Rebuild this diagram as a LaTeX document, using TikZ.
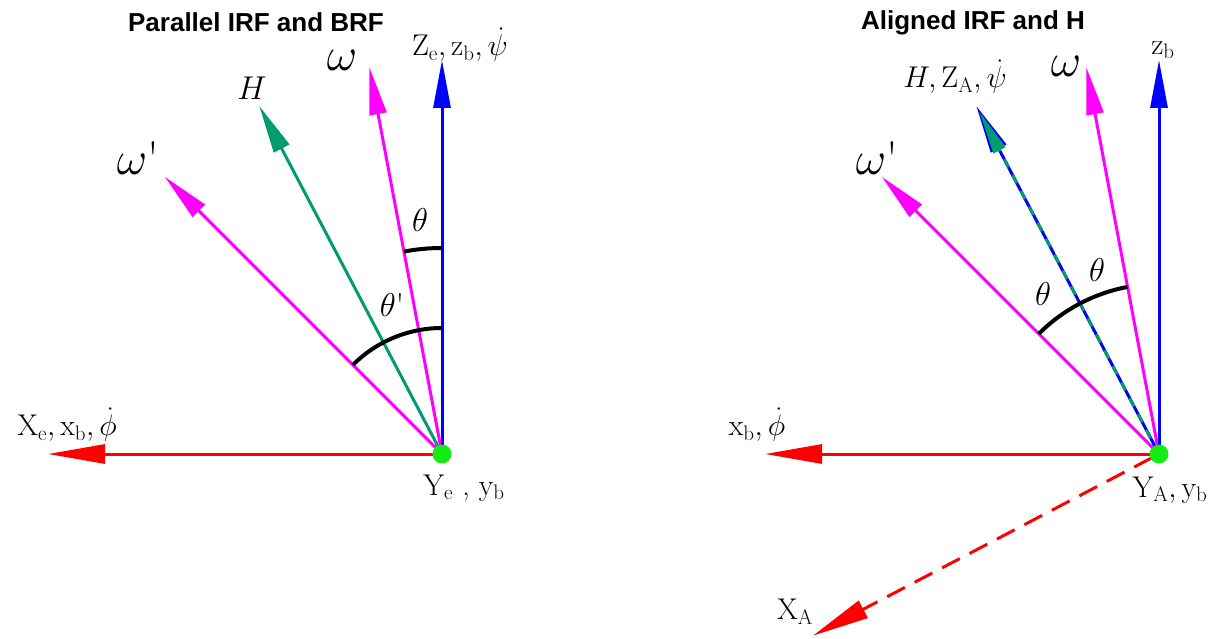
\RequirePackage{fix-cm}
\documentclass[tikz,border=0pt]{standalone}
\usepackage{fontspec}
\newfontfamily\titlefont{Liberation Sans}
\usetikzlibrary{arrows.meta,calc}
\definecolor{hgreen}{RGB}{0,155,110}
\definecolor{dotgreen}{RGB}{20,235,20}
\definecolor{mag}{RGB}{255,0,255}
\definecolor{vred}{RGB}{255,0,0}
\definecolor{vblue}{RGB}{0,0,255}
\begin{document}
\begin{tikzpicture}[x=1pt,y=1pt,
 vec/.style={line width=3pt, -{Triangle[length=48pt,width=17pt]}},
 xvec/.style={line width=3pt, -{Triangle[length=57pt,width=19pt]}},
 anglearc/.style={line width=4pt, black},
 lbl/.style={inner sep=0pt, font=\fontsize{30}{34}\selectfont},
 hlbl/.style={inner sep=0pt, font=\fontsize{33}{37}\selectfont},
 biglbl/.style={inner sep=0pt, font=\fontsize{47}{50}\selectfont},
 titlelbl/.style={inner sep=0pt, font=\titlefont\bfseries\fontsize{26}{30}\selectfont},
 origin/.style={circle, fill=dotgreen, minimum size=19pt, inner sep=0pt}]
\useasboundingbox (0,0) rectangle (1214,-639);

% ---------------- left diagram ----------------
\coordinate (O1) at (442,-454);
\coordinate (Z1) at ($(O1)+(90:394)$);
\coordinate (W1) at ($(O1)+(100.65:394)$);
\coordinate (H1) at ($(O1)+(117.7:393)$);
\coordinate (Wp1) at ($(O1)+(135:392)$);
\coordinate (X1) at ($(O1)+(180:394)$);

\draw[vec, mag] (O1) -- (Wp1);
\draw[vec, hgreen] (O1) -- (H1);
\draw[vec, mag] (O1) -- (W1);
\draw[vec, vblue] (O1) -- (Z1);
\draw[xvec, vred] (O1) -- (X1);

\draw[anglearc] ($(O1)+(90:206)$) arc[start angle=90, end angle=100.65, radius=206pt];
\draw[anglearc] ($(O1)+(90:126)$) arc[start angle=90, end angle=135, radius=126pt];

\node[origin] (D1) at (O1) {};

\node[titlelbl] (T1) at (256,-22) {Parallel IRF and BRF};
\node[lbl] (LZ1) at (460,-45) {$\mathrm{Z_e},\mathrm{z_b},\dot{\psi}$};
\node[biglbl] (LW1) at (342,-60) {$\omega$};
\node[hlbl] (LH1) at (252,-88) {$H$};
\node[biglbl] (LWp1) at (138,-158) {$\omega$\textquotesingle};
\node[hlbl] (LT1) at (420,-220) {$\theta$};
\node[hlbl] (LTp1) at (392,-305) {$\theta$\textquotesingle};
\node[lbl] (LX1) at (67,-425) {$\mathrm{X_e},\mathrm{x_b},\dot{\phi}$};
\node[lbl] (LY1) at (464,-488) {$\mathrm{Y_e}$ , $\mathrm{y_b}$};

% ---------------- right diagram ----------------
\coordinate (O2) at (1159,-454);
\coordinate (Z2) at ($(O2)+(90:394)$);
\coordinate (W2) at ($(O2)+(100.65:394)$);
\coordinate (H2) at ($(O2)+(117.7:393)$);
\coordinate (Wp2) at ($(O2)+(135:392)$);
\coordinate (X2) at ($(O2)+(180:394)$);
\coordinate (XA) at ($(O2)+(207.7:391)$);
\coordinate (XAs) at ($(O2)+(207.7:8)$);

\draw[vec, mag] (O2) -- (Wp2);
\draw[vec, vblue] (O2) -- (H2);
\draw[line width=3pt, hgreen, dash pattern=on 9pt off 9pt, -{Triangle[length=44pt,width=13pt]}, shorten >=6pt] (O2) -- (H2);
\draw[vec, mag] (O2) -- (W2);
\draw[vec, vblue] (O2) -- (Z2);
\draw[xvec, vred] (O2) -- (X2);
\draw[xvec, vred, dash pattern=on 20pt off 11pt] (XAs) -- (XA);

\draw[anglearc] ($(O2)+(135:170)$) arc[start angle=135, end angle=117.7, radius=170pt];
\draw[anglearc] ($(O2)+(117.7:170)$) arc[start angle=117.7, end angle=100.65, radius=170pt];

\node[origin] (D2) at (O2) {};

\node[titlelbl] (T2) at (973,-23) {Aligned IRF and H};
\node[lbl] (LZ2) at (1163,-50) {$\mathrm{z_b}$};
\node[biglbl] (LW2) at (1066,-66) {$\omega$};
\node[lbl] (LH2) at (955,-77) {$H,\mathrm{Z_A},\dot{\psi}$};
\node[biglbl] (LWp2) at (877,-158) {$\omega$\textquotesingle};
\node[hlbl] (LT2a) at (1043,-294) {$\theta$};
\node[hlbl] (LT2b) at (1097,-270) {$\theta$};
\node[lbl] (LX2) at (757,-425) {$\mathrm{x_b},\dot{\phi}$};
\node[lbl] (LY2) at (1170,-490) {$\mathrm{Y_A},\mathrm{y_b}$};
\node[lbl] (LXA) at (795,-612) {$\mathrm{X_A}$};
\end{tikzpicture}
\end{document}
